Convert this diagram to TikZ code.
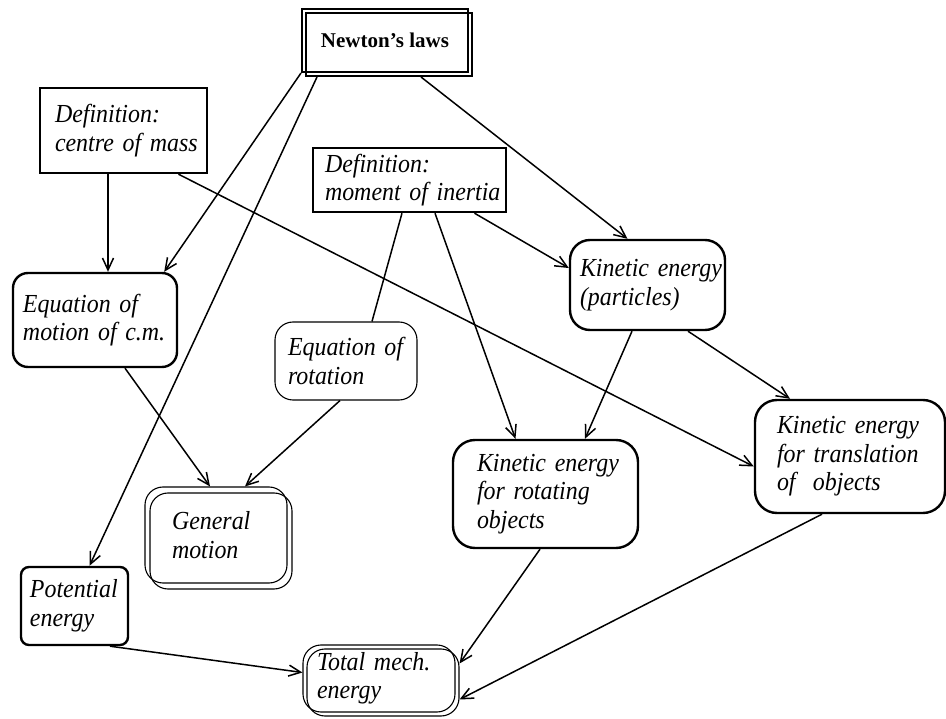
\documentclass[tikz,border=0pt]{standalone}
\usepackage{fontspec}
\setmainfont{Liberation Serif}[ItalicFeatures={FakeStretch=0.92}]
\usetikzlibrary{arrows.meta}
\begin{document}
\begin{tikzpicture}[x=1pt,y=-1pt,
  txt/.style={font=\itshape\fontsize{26}{28.5}\selectfont},
  thickbox/.style={draw, line width=2.4pt, align=left, txt, inner ysep=0pt},
  thinbox/.style={draw, line width=1.1pt, align=left, txt, inner ysep=0pt},
  emptybox/.style={draw, line width=1.1pt, inner sep=0pt},
  conn/.style={line width=1.5pt, -{Straight Barb[length=12pt,width=11pt,line width=1.5pt]}},
  plainline/.style={line width=1.5pt},
]
\useasboundingbox (0,0) rectangle (946,719);
\fill[white] (0,0) rectangle (946,719);

% Newton's laws (double rectangle)
\node[draw, line width=2pt, minimum width=166pt, minimum height=63pt, inner sep=0pt,
      font=\bfseries\fontsize{21}{24}\selectfont] (newton) at (385,40.5) {Newton’s laws};
\node[draw, line width=2pt, minimum width=166pt, minimum height=63pt, inner sep=0pt] (newtonb) at (389,44.5) {};

% Definitions
\node[thickbox, minimum width=167pt, minimum height=85pt, inner xsep=15pt, text width=137pt]
  (centre) at (123.5,130.5) {\mbox{Definition:}\\\mbox{centre of mass}};
\node[thickbox, minimum width=193pt, minimum height=64pt, inner xsep=12pt, text width=169pt]
  (moment) at (409.5,180) {\mbox{Definition:}\\\mbox{moment of inertia}};

% Equations
\node[thickbox, rounded corners=15pt, minimum width=164pt, minimum height=94pt, inner xsep=10pt, text width=144pt]
  (eqmotion) at (95,320) {\mbox{Equation of}\\\mbox{motion of c.m.}};
\node[thinbox, rounded corners=18pt, minimum width=142pt, minimum height=78pt, inner xsep=13pt, text width=116pt]
  (eqrot) at (346,361) {\mbox{Equation of}\\\mbox{rotation}};

% General motion (double rounded)
\node[thinbox, rounded corners=18pt, minimum width=142pt, minimum height=96pt, inner xsep=27pt, text width=88pt]
  (general) at (216,535) {\mbox{General}\\\mbox{motion}};
\node[emptybox, rounded corners=18pt, minimum width=142pt, minimum height=96pt] (generalb) at (221,541) {};

% Potential energy
\node[thickbox, rounded corners=8pt, minimum width=107pt, minimum height=78pt, inner xsep=9pt, text width=89pt]
  (potential) at (74.5,606) {\mbox{Potential}\\\mbox{energy}};

% Kinetic energies
\node[thickbox, rounded corners=20pt, minimum width=155pt, minimum height=90pt, inner xsep=10pt, text width=135pt]
  (particles) at (647.5,285) {\mbox{Kinetic energy}\\\mbox{(particles)}};
\node[thickbox, rounded corners=22pt, minimum width=185pt, minimum height=108pt, inner xsep=24pt, text width=137pt]
  (rotating) at (545.5,494) {\mbox{Kinetic energy}\\\mbox{for rotating}\\\mbox{objects}};
\node[thickbox, rounded corners=22pt, minimum width=190pt, minimum height=113pt, inner xsep=22pt, text width=146pt]
  (translation) at (850,456.5) {\mbox{Kinetic energy}\\\mbox{for translation}\\\mbox{of\ \ objects}};

% Total mechanical energy (double rounded)
\node[thinbox, rounded corners=18pt, minimum width=152pt, minimum height=67pt, inner xsep=14pt, text width=124pt]
  (total) at (379,678.5) {\mbox{Total mech.}\\\mbox{energy}};
\node[emptybox, rounded corners=18pt, minimum width=152pt, minimum height=67pt] (totalb) at (383,682.5) {};

% Connectors
\draw[conn] (newton.south west) -- ([xshift=-14pt]eqmotion.north east);
\draw[conn] ([xshift=12pt]newtonb.south west) -- ([xshift=15pt]potential.north);
\draw[conn] ([xshift=32pt]newtonb.south) -- ([xshift=-20pt]particles.north);
\draw[conn] ([xshift=-15.5pt]centre.south) -- ([xshift=13pt]eqmotion.north);
\draw[conn] ([xshift=55pt]centre.south) -- ([yshift=-10pt]translation.west);
\draw[conn] ([xshift=65pt]moment.south) -- ([yshift=17pt]particles.west);
\draw[conn] ([xshift=25.5pt]moment.south) -- ([xshift=-30pt]rotating.north);
\draw[plainline] ([xshift=-7.5pt]moment.south) -- ([xshift=26pt]eqrot.north);
\draw[conn] ([xshift=30pt]eqmotion.south) -- ([xshift=-6pt]general.north);
\draw[conn] ([xshift=-6pt]eqrot.south) -- ([xshift=29pt]general.north);
\draw[conn] ([xshift=-15.5pt]particles.south) -- ([xshift=39.5pt]rotating.north);
\draw[conn] ([xshift=40.5pt]particles.south) -- ([xshift=-60pt]translation.north);
\draw[conn] ([xshift=-5.5pt]rotating.south) -- ([yshift=19pt]totalb.east);
\draw[conn] ([xshift=-28pt]translation.south) -- ([yshift=-17pt]totalb.east);
\draw[conn] ([xshift=35.5pt]potential.south) -- ([yshift=6pt]total.west);
\end{tikzpicture}
\end{document}
